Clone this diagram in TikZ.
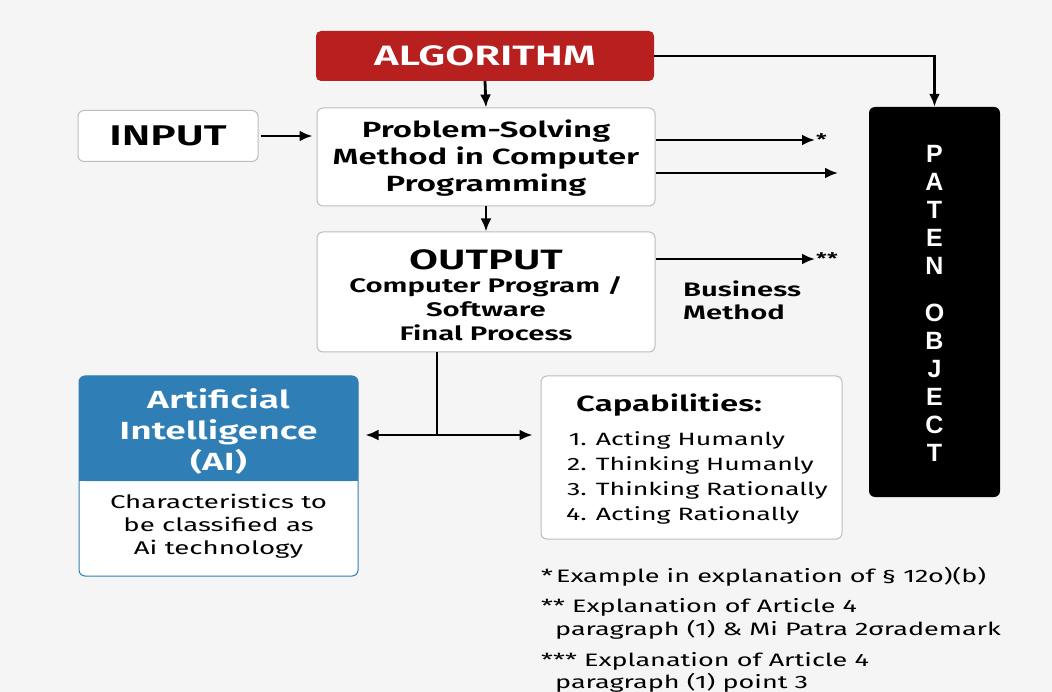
\documentclass[tikz,border=0pt]{standalone}
\usepackage{fontspec}
\setmainfont{Fira Sans}[FakeStretch=1.5, BoldFont={Fira Sans SemiBold}]
\newfontfamily\letterfont{Liberation Sans}
\usetikzlibrary{arrows.meta,calc}
\definecolor{bgcol}{HTML}{F5F5F5}
\definecolor{algred}{HTML}{B81F1F}
\definecolor{aiblue}{HTML}{2F7FB6}
\definecolor{boxline}{HTML}{BDBDBD}
\tikzset{
  box/.style={draw=boxline, line width=1pt, fill=white, rounded corners=6pt, inner sep=0pt},
  conn/.style={line width=2.8pt, -{Latex[length=13pt,width=11pt]}},
  plainline/.style={line width=2.8pt},
  headtxt/.style={font=\bfseries\fontsize{22}{27}\selectfont, align=center},
  bodytxt/.style={font=\fontsize{18.4}{23}\selectfont, align=center},
  notetxt/.style={font=\fontsize{18}{22}\selectfont, anchor=west, inner sep=0pt},
}
\begin{document}
\begin{tikzpicture}[x=1pt,y=-1pt]
  \fill[bgcol] (0,0) rectangle (1052,692);
  \useasboundingbox (0,0) rectangle (1052,692);
  \clip (0,0) rectangle (1052,692);

  % ALGORITHM header
  \node[fill=algred, rounded corners=5pt, minimum width=338pt, minimum height=50pt,
        text=white, font=\bfseries\fontsize{28}{30}\selectfont] (alg) at (485,56) {ALGORITHM};

  % input and processing chain
  \node[box, minimum width=180pt, minimum height=51pt,
        font=\bfseries\fontsize{28.5}{30}\selectfont] (input) at (168,136) {INPUT};
  \node[box, minimum width=338pt, minimum height=98pt] (prob) at (486,157) {};
  \node[headtxt] (probtxt) at (486,158) {Problem-Solving\\Method in Computer\\Programming};

  \node[box, minimum width=338pt, minimum height=120pt] (out) at (486,292) {};
  \node[align=center, font=\bfseries\fontsize{19.6}{24}\selectfont] (outtxt) at (486,295)
     {{\fontsize{28}{30}\selectfont OUTPUT}\\[-1pt]Computer Program /\\Software\\Final Process};

  % patent object column
  \node[fill=black, rounded corners=6pt, minimum width=131pt, minimum height=390pt] (paten) at (934.5,302) {};
  \node[text=white, align=center, font=\letterfont\bfseries\fontsize{25}{28}\selectfont] (patentxt) at (934.5,303)
     {P\\A\\T\\E\\N\\[19pt]O\\B\\J\\E\\C\\T};

  % AI box
  \node[draw=aiblue, line width=1pt, fill=white, rounded corners=6pt,
        minimum width=279pt, minimum height=200pt] (ai) at (218.5,476) {};
  \fill[aiblue, rounded corners=6pt] (79,481) -- (79,376) -- (358,376) -- (358,481) -- cycle;
  \fill[aiblue] (79,470) rectangle (358,481);
  \node[text=white, align=center, font=\bfseries\fontsize{24.8}{31}\selectfont] (aititle) at (218.5,431)
     {Artificial\\Intelligence\\(AI)};
  \node[bodytxt] (aibody) at (218.5,526) {Characteristics to\\be classified as\\Ai technology};

  % capabilities box
  \node[box, minimum width=301pt, minimum height=163pt] (cap) at (691.5,457.5) {};
  \node[anchor=west, inner sep=0pt, font=\bfseries\fontsize{22}{24}\selectfont] (captitle) at (576,405) {Capabilities:};
  \node[anchor=north west, inner sep=0pt, font=\fontsize{17.8}{25}\selectfont] (caplist) at (566,428)
     {\begin{tabular}{@{}r@{\hspace{9pt}}l@{}}
       1. & Acting Humanly\\
       2. & Thinking Humanly\\
       3. & Thinking Rationally\\
       4. & Acting Rationally
     \end{tabular}};

  % side labels
  \node[anchor=west, inner sep=0pt, align=left, font=\bfseries\fontsize{19.5}{23}\selectfont] (biz) at (683,300) {Business\\Method};
  \coordinate (e1) at (815,140);
  \coordinate (e2) at (838,173);
  \coordinate (e3) at (815,259);
  \node[anchor=west, inner sep=1pt, font=\bfseries\fontsize{16}{16}\selectfont] (star1) at (e1) {*};
  \node[anchor=west, inner sep=1pt, font=\bfseries\fontsize{16}{16}\selectfont] (star2) at (e3) {**};

  % connectors
  \draw[conn] (alg.south) -- (prob.north);
  \draw[conn] (alg.east) -| (paten.north);
  \draw[conn, shorten <=2pt, shorten >=4pt] (input.east) -- (input.east -| prob.west);
  \draw[conn] (prob.east |- e1) -- (e1);
  \draw[conn] (prob.east |- e2) -- (e2);
  \draw[conn] (prob.south) -- (out.north);
  \draw[conn] (out.east |- e3) -- (e3);
  \coordinate (junc) at (437,435);
  \draw[plainline] (out.south -| junc) -- (junc);
  \draw[conn, shorten >=7pt] (junc) -- (ai.east |- junc);
  \draw[conn, shorten >=8pt] (junc) -- (cap.west |- junc);

  % footnotes
  \node[notetxt] (n1) at (541,577) {*\,Example in explanation of § 12o)(b)};
  \node[notetxt] (n2) at (541,607) {** Explanation of Article 4};
  \node[notetxt] (n3) at (555,630) {paragraph (1) \& Mi Patra 2σrademark};
  \node[notetxt] (n4) at (541,661) {*** Explanation of Article 4};
  \node[notetxt] (n5) at (555,683) {paragraph (1) point 3};
\end{tikzpicture}
\end{document}
